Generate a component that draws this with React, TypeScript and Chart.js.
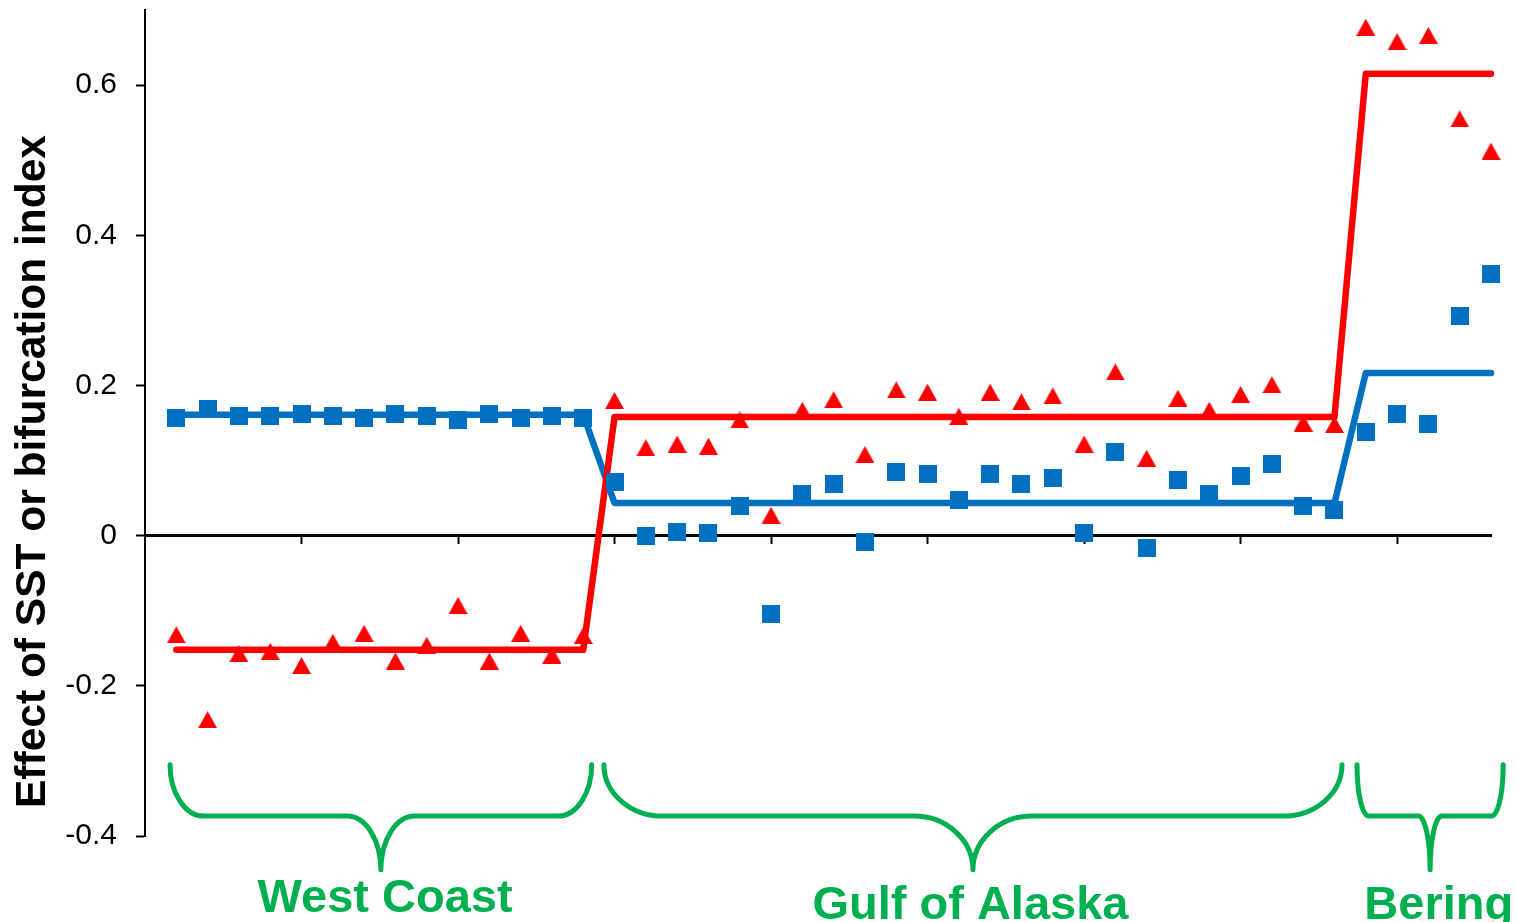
import React, { useEffect, useRef } from 'react';
import { Chart, registerables } from 'chart.js';

Chart.register(...registerables);

// ---------------- data ----------------
const sites = [
  1, 2, 3, 4, 5, 6, 7, 8, 9, 10, 11, 12, 13, 14,
  15, 16, 17, 18, 19, 20, 21, 22, 23, 24, 25, 26, 27, 28, 29, 30, 31, 32, 33, 34, 35, 36, 37, 38,
  39, 40, 41, 42, 43,
];

// red triangles
const sstEffect = [
  -0.132, -0.245, -0.157, -0.154, -0.173, -0.142, -0.130, -0.167, -0.146, -0.093, -0.167, -0.130, -0.159, -0.133,
  0.180, 0.117, 0.122, 0.119, 0.154, 0.027, 0.167, 0.181, 0.108, 0.194, 0.191, 0.159, 0.191, 0.178, 0.186, 0.122,
  0.218, 0.103, 0.183, 0.167, 0.188, 0.201, 0.150, 0.148,
  0.677, 0.658, 0.666, 0.555, 0.512,
];

// blue squares
const bifurcationEffect = [
  0.157, 0.168, 0.159, 0.159, 0.162, 0.159, 0.157, 0.162, 0.159, 0.154, 0.162, 0.157, 0.159, 0.157,
  0.072, 0.000, 0.005, 0.003, 0.040, -0.104, 0.055, 0.069, -0.008, 0.085, 0.082, 0.048, 0.082, 0.069, 0.077, 0.003,
  0.112, -0.016, 0.074, 0.055, 0.080, 0.095, 0.040, 0.034,
  0.138, 0.162, 0.149, 0.292, 0.348,
];

const regionNames = ['West Coast', 'Gulf of Alaska', 'Bering'];
const regionFirstSite = [1, 15, 39];
const regionLastSite = [14, 38, 43];
const sstRegionFit = [-0.152, 0.158, 0.615];
const bifRegionFit = [0.161, 0.0435, 0.2166];

const yTickValues = [-0.4, -0.2, 0, 0.2, 0.4, 0.6];
const xTickValues = [5, 10, 15, 20, 25, 30, 35, 40];
const yAxisTitle = 'Effect of SST or bifurcation index';

// ---------------- annotation geometry (not data) ----------------
const BRACE_SPANS = [
  { from: 0.8, to: 14.27, labelX: 7.67, baseline: 912 },
  { from: 14.66, to: 38.24, labelX: 26.37, baseline: 919 },
  { from: 38.72, to: 43.39, labelX: 41.33, baseline: 919 },
];
const BRACE_TOP = -0.305;
const BRACE_MID = -0.3735;
const BRACE_TIP = -0.445;

const RED = '#FF0000';
const BLUE = '#0070C0';
const GREEN = '#00B050';
const FONT = '"Liberation Sans", Arial, Helvetica, sans-serif';

function makeSquare(size: number, color: string) {
  const c = document.createElement('canvas');
  c.width = size;
  c.height = size;
  const ctx = c.getContext('2d')!;
  ctx.fillStyle = color;
  ctx.fillRect(0, 0, size, size);
  return c;
}

function makeTriangle(w: number, h: number, color: string) {
  const c = document.createElement('canvas');
  c.width = w;
  c.height = h;
  const ctx = c.getContext('2d')!;
  ctx.fillStyle = color;
  ctx.beginPath();
  ctx.moveTo(w / 2, 0);
  ctx.lineTo(w, h);
  ctx.lineTo(0, h);
  ctx.closePath();
  ctx.fill();
  return c;
}

function drawBrace(ctx: CanvasRenderingContext2D, x0: number, x1: number, top: number, mid: number, tip: number) {
  const xc = (x0 + x1) / 2;
  const rx = Math.min((x1 - x0) * 0.08, (x1 - x0) / 4);
  const ry1 = mid - top;
  const ry2 = tip - mid;
  ctx.beginPath();
  ctx.moveTo(x0, top);
  ctx.ellipse(x0 + rx, top, rx, ry1, 0, Math.PI, Math.PI / 2, true);
  ctx.lineTo(xc - rx, mid);
  ctx.ellipse(xc - rx, tip, rx, ry2, 0, -Math.PI / 2, 0, false);
  ctx.ellipse(xc + rx, tip, rx, ry2, 0, Math.PI, Math.PI * 1.5, false);
  ctx.lineTo(x1 - rx, mid);
  ctx.ellipse(x1 - rx, top, rx, ry1, 0, Math.PI / 2, 0, true);
  ctx.stroke();
}

export default function App() {
  const ref = useRef<HTMLCanvasElement>(null);

  useEffect(() => {
    const canvas = ref.current;
    if (!canvas) return;

    const tri = makeTriangle(19, 17, RED);
    const sq = makeSquare(18, BLUE);

    const fitLine = (fits: number[]) =>
      regionNames.flatMap((_, i) => [
        { x: regionFirstSite[i], y: fits[i] },
        { x: regionLastSite[i], y: fits[i] },
      ]);

    const annotPlugin = {
      id: 'annot',
      afterDraw(chart: any) {
        const ctx: CanvasRenderingContext2D = chart.ctx;
        const xs = chart.scales.x;
        const ys = chart.scales.y;
        ctx.save();
        // y-axis title
        ctx.save();
        ctx.translate(45, 471.5);
        ctx.rotate(-Math.PI / 2);
        ctx.textAlign = 'center';
        ctx.textBaseline = 'alphabetic';
        ctx.font = `bold 42.5px ${FONT}`;
        ctx.fillStyle = '#000';
        ctx.fillText(yAxisTitle, 0, 0);
        ctx.restore();

        // braces + region labels
        ctx.strokeStyle = GREEN;
        ctx.lineWidth = 5;
        ctx.lineCap = 'round';
        ctx.lineJoin = 'round';
        const top = ys.getPixelForValue(BRACE_TOP);
        const mid = ys.getPixelForValue(BRACE_MID);
        const tip = ys.getPixelForValue(BRACE_TIP);
        BRACE_SPANS.forEach((b, i) => {
          drawBrace(ctx, xs.getPixelForValue(b.from), xs.getPixelForValue(b.to), top, mid, tip);
          ctx.fillStyle = GREEN;
          ctx.font = `bold 47px ${FONT}`;
          ctx.textAlign = 'center';
          ctx.textBaseline = 'alphabetic';
          ctx.fillText(regionNames[i], xs.getPixelForValue(b.labelX), b.baseline);
        });
        ctx.restore();
      },
    };

    const chart = new Chart(canvas, {
      type: 'scatter',
      data: {
        datasets: [
          {
            label: 'Bifurcation fit',
            data: fitLine(bifRegionFit),
            showLine: true,
            borderColor: BLUE,
            backgroundColor: BLUE,
            borderWidth: 6.5,
            pointRadius: 0,
            borderJoinStyle: 'round',
            borderCapStyle: 'round',
            clip: false,
            order: 4,
          },
          {
            label: 'SST fit',
            data: fitLine(sstRegionFit),
            showLine: true,
            borderColor: RED,
            backgroundColor: RED,
            borderWidth: 6.5,
            pointRadius: 0,
            borderJoinStyle: 'round',
            borderCapStyle: 'round',
            clip: false,
            order: 3,
          },
          {
            label: 'Bifurcation index',
            data: sites.map((s, i) => ({ x: s, y: bifurcationEffect[i] })),
            showLine: false,
            pointStyle: sq,
            pointRadius: 9,
            backgroundColor: BLUE,
            borderColor: BLUE,
            clip: false,
            order: 2,
          },
          {
            label: 'SST',
            data: sites.map((s, i) => ({ x: s, y: sstEffect[i] })),
            showLine: false,
            pointStyle: tri,
            pointRadius: 9,
            backgroundColor: RED,
            borderColor: RED,
            clip: false,
            order: 1,
          },
        ],
      } as any,
      options: {
        responsive: false,
        animation: false,
        devicePixelRatio: 1,
        events: [],
        layout: { padding: { top: 8, right: 25, bottom: 86, left: 0 } },
        plugins: {
          legend: { display: false },
          tooltip: { enabled: false },
        },
        scales: {
          x: {
            type: 'linear',
            position: { y: 0 } as any,
            min: 0,
            max: 43,
            afterBuildTicks: (s: any) => {
              s.ticks = xTickValues.map((v) => ({ value: v }));
            },
            afterFit: (s: any) => {
              s.height = 0;
            },
            ticks: { display: false },
            grid: {
              display: true,
              drawOnChartArea: false,
              drawTicks: true,
              tickLength: 7,
              tickWidth: 2,
              tickColor: '#000',
            },
            border: { display: true, color: '#000', width: 3 },
          },
          y: {
            type: 'linear',
            position: 'left',
            min: -0.4,
            max: 0.7,
            afterBuildTicks: (s: any) => {
              s.ticks = yTickValues.map((v) => ({ value: v }));
            },
            afterFit: (s: any) => {
              s.width = 145;
              s.paddingTop = 0;
              s.paddingBottom = 0;
            },
            ticks: {
              color: '#000',
              padding: 19,
              font: { family: FONT, size: 30 },
              callback: (v: any) => {
                const n = Math.round(Number(v) * 10) / 10;
                return n === 0 ? '0' : String(n);
              },
            },
            grid: {
              display: true,
              drawOnChartArea: false,
              drawTicks: true,
              tickLength: 9,
              tickWidth: 2,
              tickColor: '#000',
            },
            border: { display: true, color: '#000', width: 2 },
          },
        },
      } as any,
      plugins: [annotPlugin],
    });

    return () => chart.destroy();
  }, []);

  return (
    <div style={{ position: 'absolute', left: 0, top: 0, width: 1516, height: 922, background: '#fff' }}>
      <canvas ref={ref} width={1516} height={922} style={{ display: 'block', width: 1516, height: 922 }} />
    </div>
  );
}
